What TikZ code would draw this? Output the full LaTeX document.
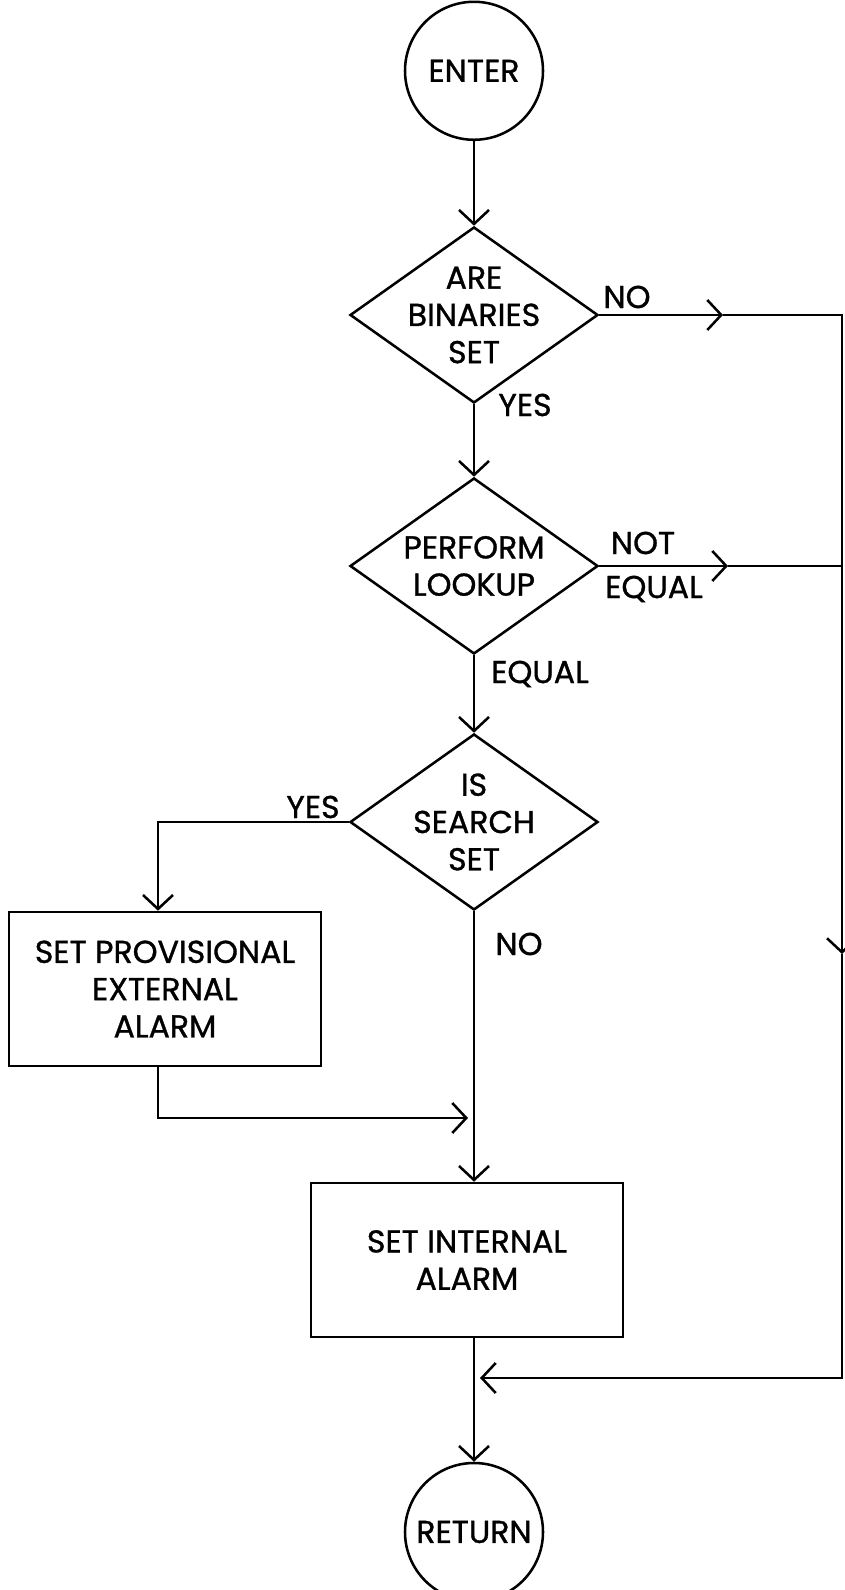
\documentclass[tikz,border=0pt]{standalone}
\usepackage{fontspec}
\newfontfamily\chartfont[FakeBold=1]{Poppins}
\usetikzlibrary{arrows.meta,positioning,shapes.geometric}
\newcommand{\chartsize}{\chartfont\fontsize{22.5}{26.5}\selectfont}
\tikzset{
  >={Straight Barb[length=3.5mm,width=7.5mm]},
  wire/.style={line width=1.8pt,line join=miter},
  flow/.style={wire,->},
  term/.style={circle,draw,line width=1.8pt,minimum size=3.45cm,inner sep=0pt,font=\chartsize},
  decide/.style={diamond,aspect=1.4,draw,line width=1.8pt,minimum width=6.2cm,
    minimum height=4.4cm,inner sep=-8pt,align=center,font=\chartsize},
  procbox/.style={rectangle,draw,line width=1.8pt,minimum width=7.8cm,
    minimum height=3.85cm,align=center,font=\chartsize},
  tag/.style={inner sep=0pt,font=\chartsize},
}
\begin{document}
\begin{tikzpicture}
  \fill[white] (0,0) rectangle (21.1,39.75);
  \useasboundingbox (0,0) rectangle (21.1,39.75);
  % main column
  \node[term] (enter) at (11.85,37.98) {ENTER};
  \node[decide] (bin) at (11.85,31.875) {ARE\\BINARIES\\SET};
  \node[decide] (look) at (11.85,25.6) {PERFORM\\LOOKUP};
  \node[decide] (srch) at (11.85,19.2) {IS\\SEARCH\\SET};
  \node[procbox] (prov) at (4.125,15.025) {SET PROVISIONAL\\EXTERNAL\\ALARM};
  \node[procbox] (intl) at (11.675,8.25) {SET INTERNAL\\ALARM};
  \node[term] (ret) at (11.85,1.45) {RETURN};
  % branch labels
  \node[tag] (noA) at (15.675,32.325) {NO};
  \node[tag] (yesA) at (13.125,29.625) {YES};
  \node[tag] (notA) at (16.075,26.175) {NOT};
  \node[tag] (eqA) at (16.35,25.025) {EQUAL};
  \node[tag] (eqB) at (13.5,22.9) {EQUAL};
  \node[tag] (yesB) at (7.825,19.575) {YES};
  \node[tag] (noB) at (12.975,16.15) {NO};
  % bypass on the right
  \coordinate (noTip) at (18.075,31.875);
  \coordinate (neTip) at (18.2,25.6);
  \coordinate (rTop) at (21.05,31.875);
  \coordinate (rMid) at (21.05,15.9);
  \coordinate (rBot) at (21.05,5.3);
  \coordinate (retTip) at (12.0,5.3);
  \coordinate (joinTip) at (11.7,11.8);
  \draw[flow] (enter) -- (bin);
  \draw[flow] (bin) -- (look);
  \draw[flow] (look) -- (srch);
  \draw[flow] (srch.west) -| ([xshift=-0.175cm]prov.north);
  \draw[flow] (srch) -- (srch |- intl.north);
  \draw[flow] ([xshift=-0.175cm]prov.south) |- (joinTip);
  \draw[flow] (intl.south -| ret) -- (ret);
  \draw[flow] (bin.east) -- (noTip);
  \draw[flow] (noTip) -- (rTop) -- (rMid);
  \draw[flow] (rMid) -- (rBot) -- (retTip);
  \draw[flow] (look.east) -- (neTip);
  \draw[wire] (neTip) -- (neTip -| rTop);
\end{tikzpicture}
\end{document}
